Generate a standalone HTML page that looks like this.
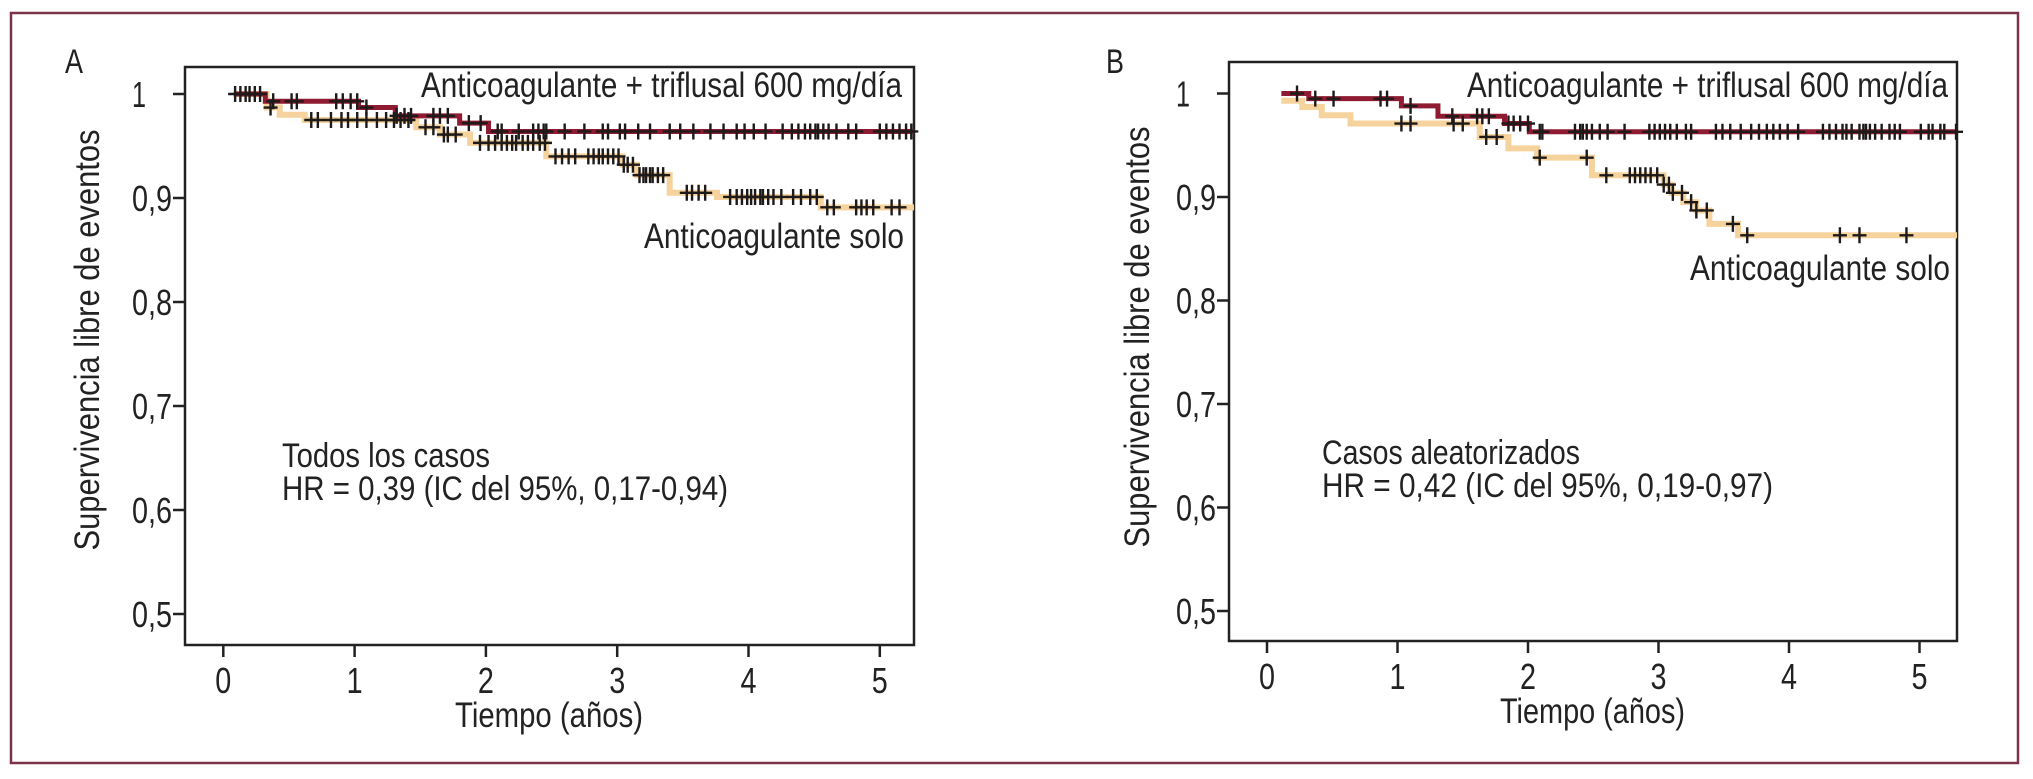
<!DOCTYPE html>
<html><head><meta charset="utf-8">
<style>
html,body{margin:0;padding:0;background:#fff;}
svg{display:block;}
text{font-family:"Liberation Sans Narrow","Liberation Sans",sans-serif;fill:#222;}
</style></head>
<body>
<svg id="fig" width="2033" height="779" viewBox="0 0 2033 779" xmlns="http://www.w3.org/2000/svg">
<rect x="11" y="13" width="2007" height="750" fill="none" stroke="#7b3347" stroke-width="2.5"/>
</svg>
<script>
// ---------- shared axis data ----------
const yTicks = [1, 0.9, 0.8, 0.7, 0.6, 0.5];
const yTickLabels = ["1", "0,9", "0,8", "0,7", "0,6", "0,5"];
const xTicks = [0, 1, 2, 3, 4, 5];
const xTickLabels = ["0", "1", "2", "3", "4", "5"];

// ---------- Panel A data ----------
const aRedTimes = [0.08, 0.32, 1.03, 1.31, 1.80, 2.02];
const aRedValues = [1, 0.993, 0.987, 0.979, 0.972, 0.964];
const aOrangeTimes = [0.08, 0.33, 0.43, 0.62, 1.47, 1.65, 1.88, 2.46, 3.04, 3.15, 3.40, 3.76, 4.55];
const aOrangeValues = [1, 0.987, 0.980, 0.975, 0.968, 0.961, 0.953, 0.940, 0.932, 0.922, 0.905, 0.901, 0.891];
const aRedCensor = [0.09,0.13,0.17,0.20,0.24,0.28,0.38,0.52,0.56,0.86,0.91,0.97,1.02,1.09,1.32,1.38,1.43,1.60,1.65,1.71,1.87,1.96,2.09,2.12,2.25,2.36,2.40,2.44,2.46,2.60,2.75,2.89,2.93,3.02,3.06,3.16,3.25,3.40,3.48,3.58,3.71,3.81,3.91,3.97,4.04,4.13,4.26,4.33,4.38,4.43,4.47,4.51,4.53,4.57,4.61,4.67,4.76,4.82,5.0,5.05,5.1,5.15,5.2,5.24];
const aOrangeCensor = [0.36,0.67,0.72,0.82,0.90,0.95,1.02,1.09,1.17,1.24,1.30,1.35,1.41,1.54,1.60,1.68,1.71,1.77,1.955,2.02,2.07,2.12,2.16,2.20,2.23,2.28,2.32,2.36,2.41,2.45,2.53,2.58,2.63,2.68,2.78,2.82,2.86,2.89,2.93,2.97,3.01,3.05,3.08,3.12,3.17,3.20,3.22,3.25,3.27,3.31,3.35,3.53,3.57,3.62,3.67,3.86,3.91,3.95,3.99,4.02,4.05,4.09,4.11,4.15,4.19,4.25,4.34,4.40,4.47,4.52,4.60,4.65,4.82,4.86,4.9,4.95,5.09,5.15];

// ---------- Panel B data ----------
const bRedTimes = [0.11, 0.32, 1.03, 1.31, 1.82, 2.01];
const bRedValues = [1, 0.995, 0.988, 0.978, 0.971, 0.963];
const bOrangeTimes = [0.11, 0.27, 0.42, 0.64, 1.63, 1.85, 2.07, 2.49, 3.04, 3.10, 3.19, 3.29, 3.39, 3.61];
const bOrangeValues = [0.993, 0.987, 0.979, 0.971, 0.958, 0.947, 0.938, 0.921, 0.912, 0.904, 0.895, 0.887, 0.874, 0.863];
const bRedCensor = [0.23,0.37,0.51,0.87,0.92,1.10,1.42,1.61,1.65,1.70,1.85,1.89,1.94,2.00,2.09,2.11,2.36,2.40,2.42,2.45,2.49,2.55,2.61,2.74,2.93,2.97,3.01,3.05,3.09,3.14,3.21,3.25,3.44,3.49,3.55,3.63,3.71,3.77,3.83,3.88,3.93,3.99,4.07,4.26,4.31,4.36,4.41,4.44,4.48,4.54,4.57,4.59,4.62,4.66,4.71,4.77,4.81,4.85,5.01,5.07,5.10,5.16,5.19,5.28];
const bOrangeCensor = [1.03,1.10,1.43,1.50,1.68,1.76,2.09,2.45,2.60,2.78,2.82,2.86,2.90,2.94,2.99,3.04,3.08,3.11,3.18,3.25,3.29,3.37,3.57,3.68,4.39,4.54,4.90];

const NS = "http://www.w3.org/2000/svg";
const svg = document.getElementById('fig');
function mk(tag, attrs, parent) {
  const e = document.createElementNS(NS, tag);
  for (const k in attrs) e.setAttribute(k, attrs[k]);
  (parent || svg).appendChild(e);
  return e;
}
function txt(s, x, y, size, parent, opts) {
  opts = opts || {};
  const a = {x: x, y: y, 'font-size': size};
  if (opts.anchor) a['text-anchor'] = opts.anchor;
  if (opts.len) { a.textLength = opts.len; a.lengthAdjust = 'spacingAndGlyphs'; }
  if (opts.transform) a.transform = opts.transform;
  const t = mk('text', a, parent);
  t.textContent = s;
  return t;
}

function panel(cfg) {
  const g = mk('g', {});
  
  
  const xs = t => cfg.x0 + t * cfg.xPer;
  const ys = v => cfg.y1 + (1 - v) * cfg.yPer * 100;

  const fr = mk('rect', {x: cfg.left, y: cfg.top, width: cfg.right - cfg.left, height: cfg.bottom - cfg.top, fill: 'none', stroke: '#222', 'stroke-width': 2.5}, g);
  
  

  yTicks.forEach((v, i) => {
    const y = ys(v);
    const tk = mk('line', {x1: cfg.left - 12, x2: cfg.left, y1: y, y2: y, stroke: '#222', 'stroke-width': 2.5}, g);
    
    
    const s = yTickLabels[i];
    const lb = txt(s, cfg.left - 53, y + 13, 36, g, {len: s.length > 1 ? 40 : 14});
    
    
  });
  xTicks.forEach((t, i) => {
    const x = xs(t);
    const tk = mk('line', {x1: x, x2: x, y1: cfg.bottom, y2: cfg.bottom + 12, stroke: '#222', 'stroke-width': 2.5}, g);
    
    
    const lb = txt(xTickLabels[i], x - 8, cfg.xLabY, 36, g, {len: 16});
    
    
  });

  function stepPath(times, vals, endT, color, w, name) {
    let d = 'M' + xs(times[0]) + ',' + ys(vals[0]);
    for (let i = 1; i < times.length; i++) {
      d += ' H' + xs(times[i]) + ' V' + ys(vals[i]);
    }
    d += ' H' + xs(endT);
    const p = mk('path', {d: d, fill: 'none', stroke: color, 'stroke-width': w}, g);
    
    
    return {valAt: t => { let v = vals[0]; for (let i = 0; i < times.length; i++) if (t >= times[i]) v = vals[i]; return v; }};
  }
  const endT = (cfg.right - cfg.x0) / cfg.xPer;
  const orange = stepPath(cfg.oT, cfg.oV, endT, '#f6d39c', 6, 'series-anticoagulante-solo');
  const red = stepPath(cfg.rT, cfg.rV, endT, '#8e1b31', 5, 'series-anticoagulante-triflusal');

  function crosses(arr, fn, name) {
    arr.forEach(t => {
      const x = xs(t), y = ys(fn(t));
      const c = mk('path', {d: 'M' + (x - 7) + ',' + y + ' H' + (x + 7) + ' M' + x + ',' + (y - 8) + ' V' + (y + 8), stroke: '#1e1a1a', 'stroke-width': 2.4, fill: 'none'}, g);
      
      
    });
  }
  crosses(cfg.oC, orange.valAt, 'censor-mark-solo');
  crosses(cfg.rC, red.valAt, 'censor-mark-triflusal');

  let e;
  e = txt(cfg.letter, cfg.letterX, 73, 34, g, {len: 18});  
  e = txt('Anticoagulante + triflusal 600 mg/día', cfg.topLabX, 97, 35, g, {len: 481});  
  e = txt('Anticoagulante solo', cfg.soloX, cfg.soloY, 35, g, {len: 260});  
  e = txt(cfg.note1, cfg.noteX, cfg.noteY, 34, g, {len: cfg.note1Len});  
  e = txt(cfg.note2, cfg.noteX, cfg.noteY + 33, 34, g, {len: cfg.note2Len});  
  e = txt('Tiempo (años)', cfg.xTitleX, cfg.xTitleY, 35, g, {len: cfg.xTitleLen});  
  e = txt('Supervivencia libre de eventos', 0, 0, 35, g, {anchor: 'middle', len: 421, transform: 'translate(' + cfg.yTitleX + ',' + cfg.yTitleY + ') rotate(-90)'});
   
}

panel({
  name: 'panel-a', letter: 'A', letterX: 65,
  left: 185, right: 914, top: 67, bottom: 645,
  x0: 223.3, xPer: 131.3, y1: 94, yPer: 10.4,
  xLabY: 693,
  rT: aRedTimes, rV: aRedValues, oT: aOrangeTimes, oV: aOrangeValues,
  rC: aRedCensor, oC: aOrangeCensor,
  topLabX: 421, soloX: 644, soloY: 248,
  note1: 'Todos los casos', note2: 'HR = 0,39 (IC del 95%, 0,17-0,94)',
  noteX: 282, noteY: 467, note1Len: 208, note2Len: 446,
  xTitleX: 455, xTitleY: 727, xTitleLen: 188,
  yTitleX: 99, yTitleY: 340
});
panel({
  name: 'panel-b', letter: 'B', letterX: 1106,
  left: 1229, right: 1957, top: 62, bottom: 641,
  x0: 1267, xPer: 130.5, y1: 93.5, yPer: 10.35,
  xLabY: 689,
  rT: bRedTimes, rV: bRedValues, oT: bOrangeTimes, oV: bOrangeValues,
  rC: bRedCensor, oC: bOrangeCensor,
  topLabX: 1467, soloX: 1690, soloY: 280,
  note1: 'Casos aleatorizados', note2: 'HR = 0,42 (IC del 95%, 0,19-0,97)',
  noteX: 1322, noteY: 464, note1Len: 258, note2Len: 451,
  xTitleX: 1500, xTitleY: 723, xTitleLen: 185,
  yTitleX: 1149, yTitleY: 337
});
</script>
</body></html>
